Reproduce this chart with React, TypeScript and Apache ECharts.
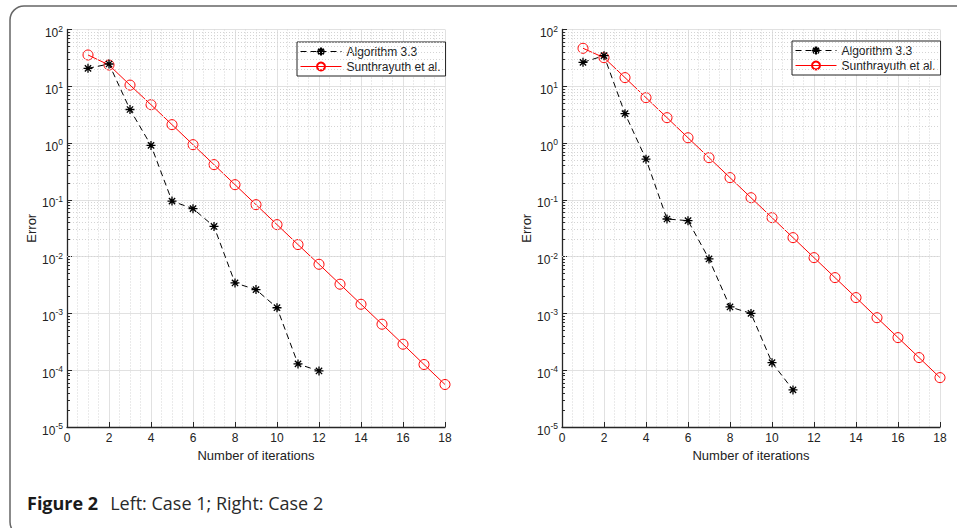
import React, { useEffect, useRef } from "react";
import * as echarts from "echarts";

// ---- data ----
const xTickLabels = ["0", "2", "4", "6", "8", "10", "12", "14", "16", "18"];
const yDecades = [1e-5, 1e-4, 1e-3, 1e-2, 1e-1, 1, 10, 100];

const leftAlgorithm = [20.7, 24.7, 3.9, 0.91, 0.095, 0.07, 0.034, 0.00344, 0.00263, 0.00126, 1.29e-4, 9.7e-5];
const leftSunthrayuth = [35.6, 23.7, 10.5, 4.74, 2.11, 0.937, 0.417, 0.185, 0.0823, 0.0366, 0.0163, 0.00734, 0.00327, 0.00145, 6.46e-4, 2.87e-4, 1.26e-4, 5.6e-5];
const rightAlgorithm = [26.4, 34.6, 3.3, 0.52, 0.046, 0.043, 0.0091, 0.0013, 0.001, 1.36e-4, 4.5e-5];
const rightSunthrayuth = [46.7, 31.9, 14.2, 6.3, 2.8, 1.24, 0.553, 0.246, 0.109, 0.0486, 0.0216, 0.0096, 0.00427, 0.0019, 8.4e-4, 3.75e-4, 1.67e-4, 7.4e-5];

const seriesNames = ["Algorithm 3.3", "Sunthrayuth et al."];
const xLabel = "Number of iterations";
const yLabel = "Error";
const captionBold = "Figure 2";
const captionText = "Left: Case 1; Right: Case 2";

const ASTERISK = "path://M5 0L5 10M0 5L10 5M1.5 1.5L8.5 8.5M1.5 8.5L8.5 1.5";
const FONT = "Liberation Sans";

function pairs(vals: number[]) {
  return vals.map((v, i) => [i + 1, v]);
}

function minorValues() {
  const out: number[] = [];
  for (let d = 0; d < yDecades.length - 1; d++) {
    for (let k = 2; k <= 9; k++) out.push(yDecades[d] * k);
  }
  return out;
}

export default function App() {
  const ref = useRef<HTMLDivElement>(null);
  useEffect(() => {
    if (!ref.current) return;
    const chart = echarts.init(ref.current, undefined, { renderer: "svg" });
    const minors = minorValues();
    const gridDefs = [
      { left: 67, top: 29.5, width: 378, height: 397.5 },
      { left: 562, top: 29.5, width: 378, height: 397.5 },
    ];
    const xAxes = gridDefs.map((_, i) => ({
      type: "value",
      gridIndex: i,
      min: 0,
      max: 18,
      interval: 2,
      name: xLabel,
      nameLocation: "middle",
      nameGap: 21,
      nameTextStyle: { fontFamily: FONT, fontSize: 13, color: "#222" },
      axisLine: { show: true, onZero: false, lineStyle: { color: "#262626", width: 1.3 } },
      axisTick: { show: true, inside: true, length: 5, lineStyle: { color: "#262626" } },
      axisLabel: {
        fontFamily: FONT,
        fontSize: 12,
        color: "#222",
        margin: 5,
        formatter: (v: number) => xTickLabels[Math.round(v / 2)] ?? String(v),
      },
      splitLine: { show: true, lineStyle: { color: "#e1e1e1", width: 1 } },
      minorTick: { show: false, splitNumber: 4 },
      minorSplitLine: { show: true, lineStyle: { color: "#d4d4d4", width: 1, type: [1, 2] } },
    }));
    const yAxes = gridDefs.map((_, i) => ({
      type: "log",
      gridIndex: i,
      logBase: 10,
      min: 1e-5,
      max: 100,
      interval: 1,
      name: yLabel,
      nameLocation: "middle",
      nameGap: 28,
      nameRotate: 90,
      nameTextStyle: { fontFamily: FONT, fontSize: 13, color: "#222" },
      axisLine: { show: true, lineStyle: { color: "#262626", width: 1.3 } },
      axisTick: { show: true, inside: true, length: 5, lineStyle: { color: "#262626" } },
      axisLabel: {
        margin: 4,
        padding: [4, 0, 0, 0],
        formatter: (v: number) => `{b|10}{s|${Math.round(Math.log10(v))}}`,
        rich: {
          b: { fontFamily: FONT, fontSize: 12, color: "#222", lineHeight: 15, verticalAlign: "bottom" },
          s: { fontFamily: FONT, fontSize: 8.5, color: "#222", lineHeight: 9, verticalAlign: "top" },
        },
      },
      splitLine: { show: true, lineStyle: { color: "#e1e1e1", width: 1 } },
    }));

    const dataSets = [
      [leftAlgorithm, leftSunthrayuth],
      [rightAlgorithm, rightSunthrayuth],
    ];
    const series: any[] = [];
    dataSets.forEach((ds, i) => {
      // minor log grid + minor ticks
      series.push({
        type: "line",
        name: "minor" + i,
        xAxisIndex: i,
        yAxisIndex: i,
        data: [],
        silent: true,
        z: 1,
        markLine: {
          silent: true,
          symbol: "none",
          animation: false,
          label: { show: false },
          lineStyle: { color: "#d4d4d4", width: 1, type: [1, 2] },
          data: minors.map((v) => ({ yAxis: v })),
        },
      });
      series.push({
        type: "line",
        name: "minorTick" + i,
        xAxisIndex: i,
        yAxisIndex: i,
        data: [],
        silent: true,
        z: 3,
        markLine: {
          silent: true,
          symbol: "none",
          animation: false,
          label: { show: false },
          lineStyle: { color: "#262626", width: 1, type: "solid" },
          data: minors.map((v) => [{ coord: [0, v] }, { coord: [0.14, v] }]),
        },
      });
      series.push({
        type: "line",
        name: seriesNames[0],
        xAxisIndex: i,
        yAxisIndex: i,
        data: pairs(ds[0]),
        symbol: ASTERISK,
        symbolSize: 9,
        showAllSymbol: true,
        lineStyle: { color: "#000", width: 1, type: [6, 4] },
        itemStyle: { color: "none", borderColor: "#000", borderWidth: 1.3 },
        z: 5,
      });
      series.push({
        type: "line",
        name: seriesNames[1],
        xAxisIndex: i,
        yAxisIndex: i,
        data: pairs(ds[1]),
        symbol: "circle",
        symbolSize: 10,
        showAllSymbol: true,
        lineStyle: { color: "#ff0000", width: 1 },
        itemStyle: { color: "none", borderColor: "#ff0000", borderWidth: 1 },
        z: 4,
      });
    });

    const legendBase = {
      orient: "vertical",
      data: seriesNames,
      backgroundColor: "#fff",
      borderColor: "#222",
      borderWidth: 1,
      padding: [3, 5, 3, 3],
      itemWidth: 41,
      itemHeight: 10,
      itemGap: 2,
      lineStyle: { width: 1 },
      textStyle: { fontFamily: FONT, fontSize: 12, color: "#222" },
      selectedMode: false,
    };

    chart.setOption({
      animation: false,
      backgroundColor: "#fff",
      grid: gridDefs,
      xAxis: xAxes,
      yAxis: yAxes,
      legend: [
        { ...legendBase, left: 297, top: 42 },
        { ...legendBase, left: 792, top: 41 },
      ],
      series,
      graphic: [
        {
          type: "rect",
          shape: { x: 10, y: 6, width: 980, height: 530, r: 14 },
          style: { fill: "none", stroke: "#666", lineWidth: 1.5 },
          silent: true,
          z: 0,
        },
        {
          type: "text",
          x: 27,
          y: 503,
          style: {
            text: `{b|${captionBold}}{g| }{n|${captionText}}`,
            verticalAlign: "middle",
            rich: {
              b: { fontFamily: "Open Sans", fontWeight: "bold", fontSize: 18, fill: "#1a1a1a" },
              g: { fontSize: 18, width: 12 },
              n: { fontFamily: "Open Sans", fontSize: 18, fill: "#2a2a2a" },
            },
          },
        },
      ],
    });
    return () => chart.dispose();
  }, []);
  return (
    <div
      ref={ref}
      style={{ position: "fixed", left: 0, top: 0, width: 957, height: 528 }}
    />
  );
}
